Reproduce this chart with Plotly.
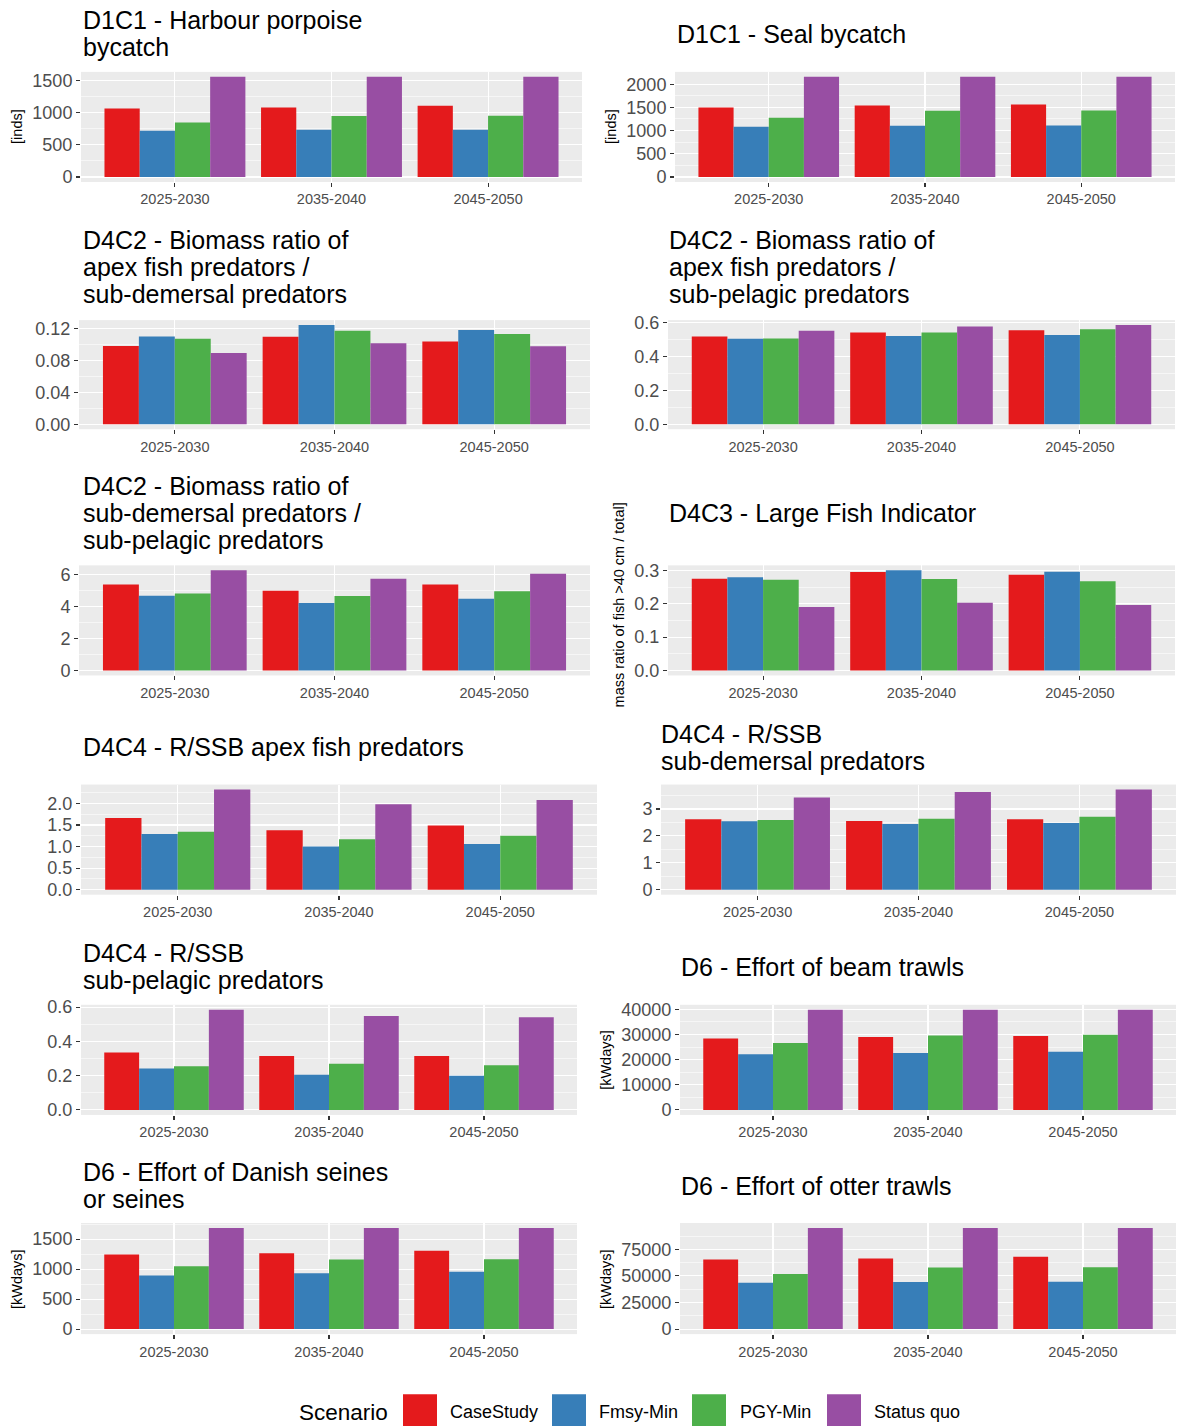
import plotly.graph_objects as go

W, H = 1177, 1426
FONT = "Liberation Sans, Arial, sans-serif"

# ---------------- data ----------------
periods = ["2025-2030", "2035-2040", "2045-2050"]
scenarios = ["CaseStudy", "Fmsy-Min", "PGY-Min", "Status quo"]
colors = ["#E41A1C", "#377EB8", "#4DAF4A", "#984EA3"]

# rows = scenarios (CaseStudy, Fmsy-Min, PGY-Min, Status quo), cols = periods
porpoise_bycatch = [[1069, 1085, 1111], [721, 737, 737], [851, 950, 955], [1562, 1562, 1562]]
seal_bycatch = [[1498, 1541, 1563], [1082, 1104, 1111], [1276, 1427, 1434], [2158, 2158, 2158]]
apex_demersal_ratio = [[0.098, 0.1094, 0.1036], [0.1098, 0.1241, 0.1179],
                       [0.1069, 0.1171, 0.113], [0.0893, 0.1012, 0.0975]]
apex_pelagic_ratio = [[0.517, 0.540, 0.553], [0.503, 0.520, 0.526],
                      [0.505, 0.540, 0.559], [0.551, 0.575, 0.584]]
demersal_pelagic_ratio = [[5.36, 4.98, 5.36], [4.67, 4.21, 4.48], [4.80, 4.65, 4.94], [6.25, 5.73, 6.04]]
large_fish_indicator = [[0.275, 0.295, 0.287], [0.279, 0.300, 0.296],
                        [0.272, 0.274, 0.267], [0.190, 0.203, 0.196]]
rssb_apex = [[1.66, 1.38, 1.49], [1.29, 1.00, 1.06], [1.34, 1.17, 1.25], [2.32, 1.98, 2.08]]
rssb_demersal = [[2.62, 2.55, 2.62], [2.54, 2.44, 2.48], [2.59, 2.64, 2.71], [3.43, 3.63, 3.72]]
rssb_pelagic = [[0.335, 0.314, 0.314], [0.242, 0.205, 0.199], [0.255, 0.269, 0.261], [0.584, 0.548, 0.540]]
effort_beam = [[28420, 28950, 29340], [22100, 22630, 23160], [26580, 29600, 29870], [39800, 39800, 39800]]
effort_seines = [[1244, 1266, 1305], [892, 931, 954], [1048, 1160, 1166], [1684, 1684, 1684]]
effort_otter = [[65500, 66460, 68040], [43670, 44300, 44620], [51900, 57910, 58230], [95000, 95000, 95000]]

# ---------------- layout of panels (pixel boxes) ----------------
panels = [
    dict(v=porpoise_bycatch, dtick=500, fmt="d", box=(81, 582, 72, 182),
         title=["D1C1 - Harbour porpoise", "bycatch"], tx=81, ty=[20, 47],
         yt="[inds]", ytx=17, yty=127),
    dict(v=seal_bycatch, dtick=500, fmt="d", box=(675, 1175, 72, 182),
         title=["D1C1 - Seal bycatch"], tx=675, ty=[34],
         yt="[inds]", ytx=611, yty=127),
    dict(v=apex_demersal_ratio, dtick=0.04, fmt=".2f", box=(79, 590, 320, 429),
         title=["D4C2 - Biomass ratio of", "apex fish predators /", "sub-demersal predators"],
         tx=81, ty=[240, 267, 294]),
    dict(v=apex_pelagic_ratio, dtick=0.2, fmt=".1f", box=(668, 1175, 320, 429),
         title=["D4C2 - Biomass ratio of", "apex fish predators /", "sub-pelagic predators"],
         tx=667, ty=[240, 267, 294]),
    dict(v=demersal_pelagic_ratio, dtick=2, fmt="d", box=(79, 590, 565, 675),
         title=["D4C2 - Biomass ratio of", "sub-demersal predators /", "sub-pelagic predators"],
         tx=81, ty=[486, 513, 540]),
    dict(v=large_fish_indicator, dtick=0.1, fmt=".1f", box=(668, 1175, 565, 675),
         title=["D4C3 - Large Fish Indicator"], tx=667, ty=[513],
         yt="mass ratio of fish >40 cm / total]", ytx=619, yty=605),
    dict(v=rssb_apex, dtick=0.5, fmt=".1f", box=(81, 597, 784, 894),
         title=["D4C4 - R/SSB apex fish predators"], tx=81, ty=[746]),
    dict(v=rssb_demersal, dtick=1, fmt="d", box=(661, 1176, 784, 894),
         title=["D4C4 - R/SSB", "sub-demersal predators"], tx=659, ty=[733, 760]),
    dict(v=rssb_pelagic, dtick=0.2, fmt=".1f", box=(81, 577, 1004, 1114),
         title=["D4C4 - R/SSB", "sub-pelagic predators"], tx=81, ty=[952, 979]),
    dict(v=effort_beam, dtick=10000, fmt="d", box=(680, 1176, 1004, 1114),
         title=["D6 - Effort of beam trawls"], tx=679, ty=[966],
         yt="[kWdays]", ytx=606, yty=1059),
    dict(v=effort_seines, dtick=500, fmt="d", box=(81, 577, 1222, 1333),
         title=["D6 - Effort of Danish seines", "or seines"], tx=81, ty=[1171, 1198],
         yt="[kWdays]", ytx=17, yty=1278),
    dict(v=effort_otter, dtick=25000, fmt="d", box=(680, 1176, 1222, 1333),
         title=["D6 - Effort of otter trawls"], tx=679, ty=[1185],
         yt="[kWdays]", ytx=606, yty=1278),
]

# calibration of the page photograph (vertical): image_y = 0.9906 * page_y + 7.2
CAL_A, CAL_B = 0.9906, 7.2


def px(x):
    return x / W


def py(y):
    return 1 - ((y - CAL_B) / CAL_A) / H


fig = go.Figure()
annotations = []
shapes = []
layout_axes = {}

for i, p in enumerate(panels, start=1):
    xs = "" if i == 1 else str(i)
    for s, scen in enumerate(scenarios):
        fig.add_trace(go.Bar(
            x=periods, y=p["v"][s], name=scen,
            marker=dict(color=colors[s], line=dict(width=0)),
            xaxis="x" + xs, yaxis="y" + xs, showlegend=False,
        ))
    x0, x1, y0, y1 = p["box"]
    vmax = max(max(r) for r in p["v"])
    vmin = min(0, min(min(r) for r in p["v"]))
    span = vmax - vmin
    layout_axes["xaxis" + xs] = dict(
        domain=[px(x0), px(x1)], anchor="y" + xs, type="category",
        range=[-0.6, 2.6], showgrid=True, gridcolor="white", gridwidth=1.1,
        ticks="outside", ticklen=4, tickwidth=1.1, tickcolor="#333333",
        tickfont=dict(size=14.5, color="#4D4D4D", family=FONT),
        showline=False, zeroline=False, fixedrange=True,
    )
    layout_axes["yaxis" + xs] = dict(
        domain=[py(y1), py(y0)], anchor="x" + xs,
        range=[vmin - 0.05 * span, vmax + 0.05 * span],
        tickmode="linear", tick0=0, dtick=p["dtick"], tickformat=p["fmt"],
        showgrid=True, gridcolor="white", gridwidth=1.1,
        minor=dict(dtick=p["dtick"] / 2, tick0=0, showgrid=True,
                   gridcolor="white", gridwidth=0.55, ticks=""),
        ticks="outside", ticklen=4, tickwidth=1.1, tickcolor="#333333",
        tickfont=dict(size=18, color="#4D4D4D", family=FONT),
        showline=False, zeroline=False, fixedrange=True,
    )
    for line, ty in zip(p["title"], p["ty"]):
        annotations.append(dict(
            text=line, x=px(p["tx"]), y=py(ty), xref="paper", yref="paper",
            xanchor="left", yanchor="middle", showarrow=False,
            font=dict(size=25, color="black", family=FONT),
        ))
    if p.get("yt"):
        annotations.append(dict(
            text=p["yt"], x=px(p["ytx"]), y=py(p["yty"]), xref="paper", yref="paper",
            xanchor="center", yanchor="middle", showarrow=False, textangle=-90,
            font=dict(size=14.5, color="black", family=FONT),
        ))

# ---------------- manual legend ----------------
annotations.append(dict(
    text="Scenario", x=px(343), y=py(1411), xref="paper", yref="paper",
    xanchor="center", yanchor="middle", showarrow=False,
    font=dict(size=22.5, color="black", family=FONT),
))
legend_sq = [403, 552, 692, 827]
legend_lab = [448, 597, 738, 872]
for s, scen in enumerate(scenarios):
    shapes.append(dict(
        type="rect", xref="paper", yref="paper",
        x0=px(legend_sq[s]), x1=px(legend_sq[s] + 34), y0=py(1428), y1=py(1393),
        fillcolor=colors[s], line=dict(width=0),
    ))
    annotations.append(dict(
        text=scen, x=px(legend_lab[s]), y=py(1411), xref="paper", yref="paper",
        xanchor="left", yanchor="middle", showarrow=False,
        font=dict(size=18, color="black", family=FONT),
    ))

fig.update_layout(
    width=W, height=H, margin=dict(l=0, r=0, t=0, b=0, pad=0),
    paper_bgcolor="white", plot_bgcolor="#EBEBEB",
    barmode="group", bargap=0.1, bargroupgap=0,
    showlegend=False, annotations=annotations, shapes=shapes,
    font=dict(family=FONT), hovermode=False,
    **layout_axes,
)

fig.write_html(
    "out.html",
    config={"displayModeBar": False, "staticPlot": True},
    post_script=(
        "document.body.style.margin='0';"
        "document.body.style.overflow='hidden';"
    ),
)
